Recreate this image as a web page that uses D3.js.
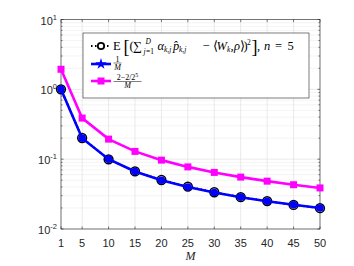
<!DOCTYPE html>
<html><head><meta charset="utf-8">
<script src="https://cdn.jsdelivr.net/npm/d3@7"></script>
<style>body{margin:0;background:#fff}svg{display:block}</style>
</head><body>
<svg id="c" width="354" height="266"></svg>
<script>
const M = [1, 5, 10, 15, 20, 25, 30, 35, 40, 45, 50];
const expVals = [1.0, 0.201, 0.0995, 0.0668, 0.0503, 0.0405, 0.0336, 0.0286, 0.0251, 0.0221, 0.0199];
const invM = [1.0, 0.2, 0.1, 0.06667, 0.05, 0.04, 0.03333, 0.02857, 0.025, 0.02222, 0.02];
const boundVals = [1.9375, 0.3875, 0.19375, 0.12917, 0.096875, 0.0775, 0.064583, 0.055357, 0.048438, 0.043056, 0.03875];
const xTicks = [1, 5, 10, 15, 20, 25, 30, 35, 40, 45, 50];
const yExps = [-2, -1, 0, 1];

const svg = d3.select("#c");
const L = 61, R = 320, T = 19.5, B = 229;
const x = d3.scaleLinear().domain([1, 50]).range([L, R]);
const y = d3.scaleLog().domain([0.01, 10]).range([B, T]);

// grid
const g = svg.append("g");
const minor = [];
for (let e = -2; e < 1; e++) for (let k = 2; k <= 9; k++) minor.push(k * Math.pow(10, e));
g.selectAll(".mg").data(minor).enter().append("line")
  .attr("x1", L).attr("x2", R).attr("y1", d => y(d)).attr("y2", d => y(d))
  .attr("stroke", "#ececec").attr("stroke-width", 0.6);
g.selectAll(".yg").data(yExps).enter().append("line")
  .attr("x1", L).attr("x2", R).attr("y1", d => y(Math.pow(10, d))).attr("y2", d => y(Math.pow(10, d)))
  .attr("stroke", "#dcdcdc").attr("stroke-width", 0.6);
g.selectAll(".xg").data(xTicks).enter().append("line")
  .attr("x1", d => x(d)).attr("x2", d => x(d)).attr("y1", T).attr("y2", B)
  .attr("stroke", "#dcdcdc").attr("stroke-width", 0.6);

// axes box + ticks
const ax = svg.append("g").attr("stroke", "#262626").attr("stroke-width", 0.6);
ax.append("rect").attr("x", L).attr("y", T).attr("width", R - L).attr("height", B - T).attr("fill", "none");
xTicks.forEach(d => {
  ax.append("line").attr("x1", x(d)).attr("x2", x(d)).attr("y1", B).attr("y2", B - 2.6);
  ax.append("line").attr("x1", x(d)).attr("x2", x(d)).attr("y1", T).attr("y2", T + 2.6);
});
yExps.forEach(e => {
  const v = y(Math.pow(10, e));
  ax.append("line").attr("x1", L).attr("x2", L + 2.6).attr("y1", v).attr("y2", v);
  ax.append("line").attr("x1", R).attr("x2", R - 2.6).attr("y1", v).attr("y2", v);
});
minor.forEach(d => {
  const v = y(d);
  ax.append("line").attr("x1", L).attr("x2", L + 1.5).attr("y1", v).attr("y2", v);
  ax.append("line").attr("x1", R).attr("x2", R - 1.5).attr("y1", v).attr("y2", v);
});

// tick labels
const tl = svg.append("g").attr("font-family", "Liberation Sans, Arial, sans-serif").attr("fill", "#262626");
xTicks.forEach(d => {
  tl.append("text").attr("x", x(d)).attr("y", 247).attr("text-anchor", "middle").attr("font-size", 11).text(d);
});
yExps.forEach(e => {
  const t = tl.append("text").attr("x", 57).attr("y", y(Math.pow(10, e)) + 5).attr("text-anchor", "end").attr("font-size", 11);
  t.append("tspan").text("10");
  t.append("tspan").attr("dy", -5).attr("font-size", 7.5).text(e);
});
svg.append("text").attr("x", (L + R) / 2).attr("y", 260).attr("text-anchor", "middle")
  .attr("font-family", "Liberation Serif, serif").attr("font-style", "italic").attr("font-size", 12).attr("fill", "#262626").text("M");

// series
const line = d3.line().x((d, i) => x(M[i])).y(d => y(d));
const plot = svg.append("g");
plot.append("path").datum(expVals).attr("d", line).attr("fill", "none").attr("stroke", "#000").attr("stroke-width", 2).attr("stroke-dasharray", "1.5,2.5");
plot.selectAll(".ce").data(expVals).enter().append("circle")
  .attr("cx", (d, i) => x(M[i])).attr("cy", d => y(d)).attr("r", 4.4)
  .attr("fill", "#fff").attr("stroke", "#000").attr("stroke-width", 1.5);
plot.append("path").datum(boundVals).attr("d", line).attr("fill", "none").attr("stroke", "#ff00ff").attr("stroke-width", 2.6);
plot.selectAll(".sq").data(boundVals).enter().append("rect")
  .attr("x", (d, i) => x(M[i]) - 3.5).attr("y", d => y(d) - 3.5).attr("width", 7).attr("height", 7)
  .attr("fill", "#ff00ff");
plot.append("path").datum(invM).attr("d", line).attr("fill", "none").attr("stroke", "#0000ff").attr("stroke-width", 2.6);
plot.selectAll(".cb").data(invM).enter().append("circle")
  .attr("cx", (d, i) => x(M[i])).attr("cy", d => y(d)).attr("r", 3.8)
  .attr("fill", "#0000ff");

// legend
const lg = svg.append("g");
lg.append("rect").attr("x", 83).attr("y", 33).attr("width", 226).attr("height", 65)
  .attr("fill", "#fff").attr("stroke", "#262626").attr("stroke-width", 0.6);
lg.append("line").attr("x1", 91).attr("x2", 111).attr("y1", 46).attr("y2", 46)
  .attr("stroke", "#000").attr("stroke-width", 2).attr("stroke-dasharray", "1.5,2.5");
lg.append("circle").attr("cx", 101).attr("cy", 46).attr("r", 3.2).attr("fill", "#fff").attr("stroke", "#000").attr("stroke-width", 1.8);
lg.append("line").attr("x1", 91).attr("x2", 111).attr("y1", 64).attr("y2", 64).attr("stroke", "#0000ff").attr("stroke-width", 2.6);
lg.append("path").attr("d", d3.symbol(d3.symbolStar, 40)()).attr("transform", "translate(101,64)").attr("fill", "#0000ff");
lg.append("line").attr("x1", 91).attr("x2", 111).attr("y1", 81).attr("y2", 81).attr("stroke", "#ff00ff").attr("stroke-width", 2.6);
lg.append("rect").attr("x", 97.5).attr("y", 77.5).attr("width", 7).attr("height", 7).attr("fill", "#ff00ff");

const serif = "Liberation Serif, Times New Roman, serif";
// [text, x, y, size, italic]
const pieces = [
  ["E", 113, 50, 12.5, false],
  ["[", 123.5, 52.5, 18, false],
  ["(", 129.5, 50, 12.5, false],
  ["∑", 133, 50, 12.5, false],
  ["D", 145.5, 43.5, 7.5, true],
  ["j", 143.5, 54, 7.5, true],
  ["=1", 146, 54, 7.5, false],
  ["α", 157.5, 50, 12.5, true],
  ["k,j", 164, 52, 7.5, true],
  ["p̂", 173, 50, 12.5, true],
  ["k,j", 179, 52, 7.5, true],
  ["−", 202.5, 50, 12.5, false],
  ["⟨", 213, 50, 12.5, false],
  ["W", 216.5, 50, 12.5, true],
  ["k", 227, 52, 7.5, true],
  [",", 230.5, 50, 12.5, false],
  ["ρ", 234, 50, 12.5, true],
  ["⟩", 239.5, 50, 12.5, false],
  [")", 243.5, 50, 12.5, false],
  ["2", 247, 44.5, 7.5, false],
  ["]", 251.5, 52.5, 18, false],
  [",", 257, 50, 12.5, false],
  ["n", 264, 50, 12.5, true],
  ["=", 275, 50, 12.5, false],
  ["5", 287.5, 50, 12.5, false]
];
lg.selectAll(".p").data(pieces).enter().append("text")
  .attr("x", d => d[1]).attr("y", d => d[2]).attr("font-size", d => d[3])
  .attr("font-style", d => d[4] ? "italic" : "normal")
  .attr("font-family", serif).attr("fill", "#000").text(d => d[0]);

function frac(cx, cy, num, den, w) {
  const f = lg.append("g").attr("font-family", serif).attr("fill", "#000");
  const n = f.append("text").attr("x", cx).attr("y", cy - 1.5).attr("text-anchor", "middle").attr("font-size", 8);
  num(n);
  f.append("line").attr("x1", cx - w / 2).attr("x2", cx + w / 2).attr("y1", cy).attr("y2", cy).attr("stroke", "#000").attr("stroke-width", 0.5);
  f.append("text").attr("x", cx).attr("y", cy + 6.5).attr("text-anchor", "middle").attr("font-size", 8).attr("font-style", "italic").text(den);
}
frac(117.5, 63, n => n.text("1"), "M", 8);
frac(127.5, 81.5, n => {
  n.append("tspan").text("2−2/2");
  n.append("tspan").attr("font-size", 6).attr("dy", -3).text("5");
}, "M", 28);
</script>
</body></html>
